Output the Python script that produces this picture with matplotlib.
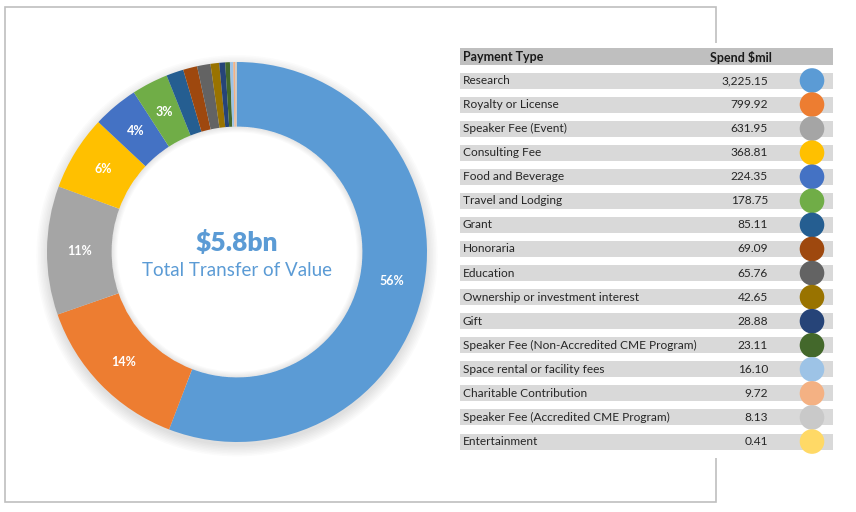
import matplotlib
matplotlib.use("Agg")
import matplotlib.pyplot as plt
import numpy as np
from matplotlib.patches import Rectangle, Circle, Wedge

plt.rcParams['font.family'] = ['Lato', 'DejaVu Sans']

# data
payment_types = ['Research', 'Royalty or License', 'Speaker Fee (Event)', 'Consulting Fee',
                 'Food and Beverage', 'Travel and Lodging', 'Grant', 'Honoraria', 'Education',
                 'Ownership or investment interest', 'Gift',
                 'Speaker Fee (Non-Accredited CME Program)', 'Space rental or facility fees',
                 'Charitable Contribution', 'Speaker Fee (Accredited CME Program)', 'Entertainment']
spend = [3225.15, 799.92, 631.95, 368.81, 224.35, 178.75, 85.11, 69.09, 65.76,
         42.65, 28.88, 23.11, 16.10, 9.72, 8.13, 0.41]
colors = ['#5B9BD5', '#ED7D31', '#A5A5A5', '#FFC000', '#4472C4', '#70AD47', '#255E91',
          '#9E480E', '#636363', '#997300', '#264478', '#43682B', '#9DC3E6', '#F4B183',
          '#C9C9C9', '#FFD966']
center_big = '$5.8bn'
center_small = 'Total Transfer of Value'

W, H = 856, 512
fig = plt.figure(figsize=(W / 100, H / 100), dpi=100)

# overlay axes in pixel coords (frame + table)
pax = fig.add_axes([0, 0, 1, 1], zorder=2)
pax.set_xlim(0, W)
pax.set_ylim(H, 0)
pax.axis('off')
pax.patch.set_alpha(0)

# frame around the donut
pax.add_patch(Rectangle((5, 7), 711, 495, fill=False, edgecolor='#BFBFBF', lw=1.2))

# donut
cx, cy, r = 237, 252, 190
pad = 1.08
dax = fig.add_axes([(cx - r * pad) / W, (H - cy - r * pad) / H,
                    2 * r * pad / W, 2 * r * pad / H], zorder=1)
ring = 0.34

# soft outer shadow (ring only)
for k in range(8):
    dax.add_patch(Wedge((0, -0.02), 1.0 + 0.008 * k, 0, 360, width=0.3,
                        color='#000000', alpha=0.016, lw=0))
total = sum(spend)
wedges, _ = dax.pie(spend, colors=colors, startangle=90, counterclock=False, radius=1,
                    wedgeprops=dict(width=ring, edgecolor='none'))
# faint inner shadow on the hole edge
for k in range(5):
    dax.add_patch(Wedge((0, 0), 1 - ring, 0, 360, width=0.006 * (k + 1),
                        color='#000000', alpha=0.02, lw=0, zorder=3))
dax.set_xlim(-pad, pad)
dax.set_ylim(-pad, pad)
dax.axis('off')

for w, v in zip(wedges, spend):
    pct = v / total * 100
    if pct < 2.5:
        continue
    ang = np.deg2rad((w.theta1 + w.theta2) / 2)
    rr = 1 - ring / 2
    dax.text(rr * np.cos(ang), rr * np.sin(ang), '%.0f%%' % pct, color='white',
             fontsize=9, fontweight='bold', ha='center', va='center', zorder=4)

dax.text(0, 0.05, center_big, color='#5B9BD5', fontsize=19, fontweight='heavy',
         ha='center', va='center', zorder=4)
dax.text(0, -0.10, center_small, color='#5B9BD5', fontsize=13.5,
         ha='center', va='center', zorder=4)

# table
tx0, tx1 = 460, 833
pax.add_patch(Rectangle((455, 43), 385, 415, color='white', lw=0))
pax.add_patch(Rectangle((tx0, 48), tx1 - tx0, 17, color='#BFBFBF', lw=0))
pax.text(463, 57, 'Payment Type', fontsize=9, fontweight='bold', color='#1a1a1a',
         ha='left', va='center')
pax.text(772, 57, 'Spend $mil', fontsize=9, fontweight='bold', color='#1a1a1a',
         ha='right', va='center')

row0, step = 80.5, 24.07
for i, (name, v, c) in enumerate(zip(payment_types, spend, colors)):
    y = row0 + i * step
    pax.add_patch(Rectangle((tx0, y - 8), tx1 - tx0, 16, color='#D9D9D9', lw=0))
    pax.text(463, y, name, fontsize=8.6, color='#262626', ha='left', va='center')
    pax.text(768, y, f'{v:,.2f}', fontsize=8.6, color='#262626', ha='right', va='center')
    pax.add_patch(Circle((812, y), 12.3, color=c, lw=0))

fig.savefig('out.png', dpi=100)
